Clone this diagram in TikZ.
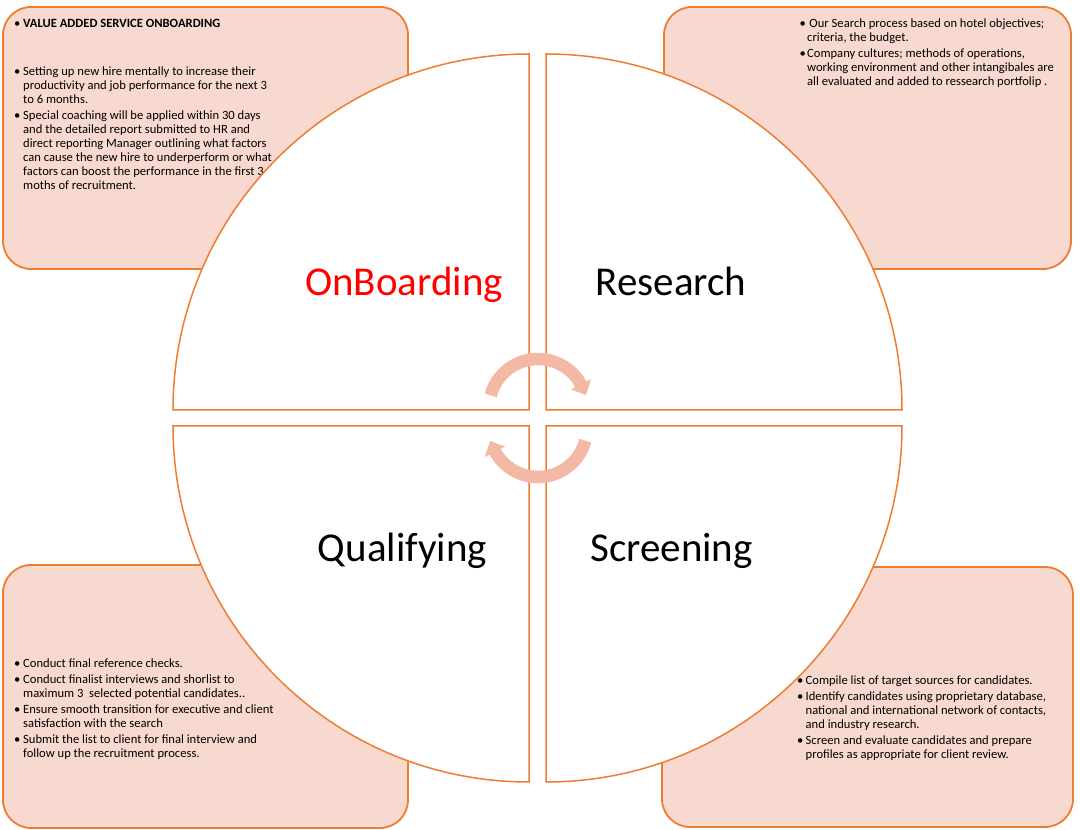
\documentclass[tikz,border=0pt]{standalone}
\usepackage{fontspec}
\setmainfont{Carlito}
\usetikzlibrary{arrows.meta,bending}
\definecolor{edgeOrange}{HTML}{ED7D31}
\definecolor{boxPink}{HTML}{F8D9CF}
\definecolor{arrowPink}{HTML}{F4B9A4}
\newcommand\bul[2][9pt]{\makebox[#1][l]{\textbullet}#2}
\newcommand\ind[1][9pt]{\hspace*{#1}}
\begin{document}
\begin{tikzpicture}
[x=1pt,y=1pt,
  boxDecorate/.style={draw=edgeOrange,fill=boxPink,line width=1.8pt,rounded corners=28pt,inner sep=0pt},
  quadDecorate/.style={draw=edgeOrange,fill=white,line width=1.5pt},
  textDecorate/.style={inner sep=0pt,align=left,anchor=north west,font=\fontsize{12.6}{14}\selectfont},
  labelDecorate/.style={inner sep=0pt,anchor=base,font=\fontsize{41}{48}\selectfont},
  arrowDecorate/.style={draw=arrowPink,line width=12.5pt,-{Triangle[width=22pt,length=12pt,bend]}}]
\useasboundingbox[fill=white] (0,0) rectangle (1080,830);
%% corner boxes
\foreach \boxname/\x/\y/\w/\h in {
  onBox/205.5/692/405/262, resBox/867.5/692/407/262,
  qualBox/205.5/133.5/405/263, scrBox/867.5/133/411/260}
{
  \node (\boxname) at (\x,\y) [boxDecorate,minimum width=\w pt,minimum height=\h pt] {};
}
%% box texts
\node (onText) at (14,811) [textDecorate] {%
  \bul{\textbf{VALUE ADDED SERVICE ONBOARDING}}\\[34pt]
  \bul{Setting up new hire mentally to increase their}\\
  \ind productivity and job performance for the next 3\\
  \ind to 6 months.\\[2pt]
  \bul{Special coaching will be applied within 30 days}\\
  \ind and the detailed report submitted to HR and\\
  \ind direct reporting Manager outlining what factors\\
  \ind can cause the new hire to underperform or what\\
  \ind factors can boost the performance in the first 3\\
  \ind moths of recruitment.};
\node (resText) at (799.5,811) [textDecorate] {%
  \bul[9.8pt]{Our Search process based on hotel objectives;}\\
  \ind[7.5pt]criteria, the budget.\\[2pt]
  \bul[7.5pt]{Company cultures; methods of operations,}\\
  \ind[7.5pt]working environment and other intangibales are\\
  \ind[7.5pt]all evaluated and added to ressearch portfolip .};
\node (qualText) at (14,171) [textDecorate] {%
  \bul{Conduct final reference checks.}\\[2pt]
  \bul{Conduct finalist interviews and shorlist to}\\
  \ind maximum 3\ \ selected potential candidates..\\[2pt]
  \bul{Ensure smooth transition for executive and client}\\
  \ind satisfaction with the search\\[2pt]
  \bul{Submit the list to client for final interview and}\\
  \ind follow up the recruitment process.};
\node (scrText) at (797,154) [textDecorate] {%
  \bul[8.5pt]{Compile list of target sources for candidates.}\\[2pt]
  \bul[8.5pt]{Identify candidates using proprietary database,}\\
  \ind[8.5pt]national and international network of contacts,\\
  \ind[8.5pt]and industry research.\\[2pt]
  \bul[8.5pt]{Screen and evaluate candidates and prepare}\\
  \ind[8.5pt]profiles as appropriate for client review.};
%% quarter circles
\foreach \cx/\cy/\sa in {529/420/90, 546/420/0, 529/404/180, 546/404/270}
{
  \draw[quadDecorate] (\cx,\cy) -- ++(\sa:356) arc[start angle=\sa,end angle=\sa+90,radius=356] -- cycle;
}
%% stage labels
\node (onLabel) at (404,534) [labelDecorate,text=red] {OnBoarding};
\node (resLabel) at (671,534) [labelDecorate] {Research};
\node (qualLabel) at (402.5,268) [labelDecorate] {Qualifying};
\node (scrLabel) at (671.5,268) [labelDecorate] {Screening};
%% cycle arrows
\draw[arrowDecorate] (538,422) ++(165:49) arc[start angle=165,end angle=15,radius=49];
\draw[arrowDecorate] (538,402) ++(-15:49) arc[start angle=-15,end angle=-165,radius=49];
\end{tikzpicture}
\end{document}
